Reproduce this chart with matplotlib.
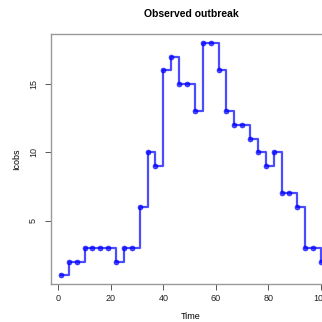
import numpy as np
import matplotlib
matplotlib.use("Agg")
import matplotlib.pyplot as plt

font = {'family': ['Liberation Sans', 'DejaVu Sans'],
        'size': 6.5}
matplotlib.rc('font', **font)

# observed cases every 3 days
times = [1, 4, 7, 10, 13, 16, 19, 22, 25, 28, 31, 34, 37, 40, 43, 46, 49,
         52, 55, 58, 61, 64, 67, 70, 73, 76, 79, 82, 85, 88, 91, 94, 97, 100]
icobs = [1, 2, 2, 3, 3, 3, 3, 2, 3, 3, 6, 10, 9, 16, 17, 15, 15,
         13, 18, 18, 16, 13, 12, 12, 11, 10, 9, 10, 7, 7, 6, 3, 3, 2]
xticks = [0, 20, 40, 60, 80, 100]
yticks = [5, 10, 15]

fig = plt.figure(figsize=(3.22, 3.22), dpi=100)
# R-style plot region, cropped on the right like the original
ax = fig.add_axes([0.157, 0.1165, 0.872, 0.7785])

col = (0, 0, 1, 0.7)
ax.step(times, icobs, where='post', color=col, lw=1.6)
ax.plot(times, icobs, 'o', color=col, ms=3.6, mec=col, mew=0.5)

# R default 4% axis expansion
xr = max(times) - min(times)
yr = max(icobs) - min(icobs)
ax.set_xlim(min(times) - 0.04 * xr, max(times) + 0.04 * xr)
ax.set_ylim(min(icobs) - 0.04 * yr, max(icobs) + 0.04 * yr)

ax.set_xticks(xticks)
ax.set_yticks(yticks)
ax.set_yticklabels([str(v) for v in yticks], rotation=90, va='center')
ax.tick_params(length=4, width=0.7, color='#555555', labelcolor='#222222', pad=5)
ax.tick_params(axis='x', pad=3)
for s in ax.spines.values():
    s.set_color('#999999')
    s.set_linewidth(1.0)

ax.set_title('Observed outbreak', fontweight='bold', fontsize=7.5, pad=12)
ax.set_xlabel('Time', labelpad=6)
ax.set_ylabel('Icobs', labelpad=6)

fig.savefig('out.png', dpi=100)
